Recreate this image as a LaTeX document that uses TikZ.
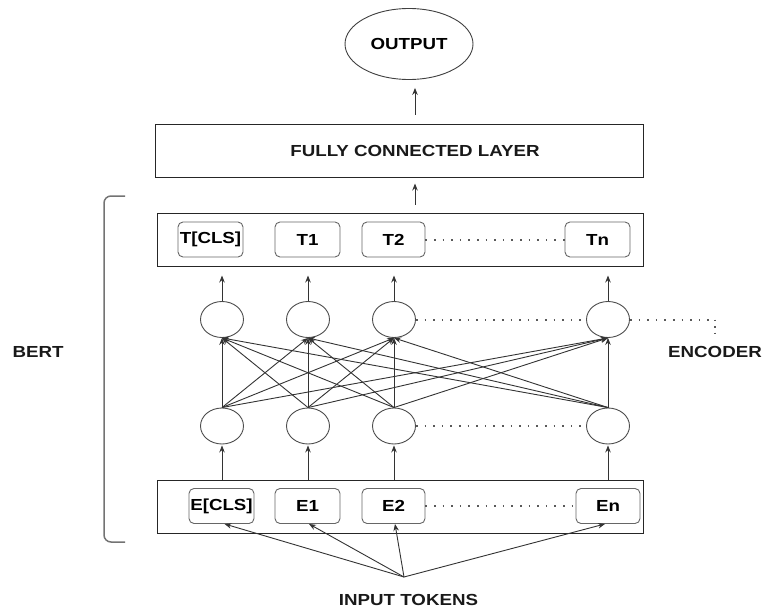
\documentclass[tikz,border=0pt]{standalone}
\usepackage{fontspec}
\setmainfont[FakeStretch=1.17]{Liberation Sans}
\usetikzlibrary{shapes.geometric,arrows.meta}
\begin{document}
\begin{tikzpicture}[x=1pt,y=-1pt,
  lbl/.style={font=\fontsize{16}{19}\selectfont\bfseries, text=black!90, inner sep=0pt},
  bigbox/.style={draw=black!85, line width=1pt, minimum width=486pt, minimum height=53pt, inner sep=0pt},
  tok/.style={draw=black!60, line width=0.9pt, rounded corners=5pt, minimum width=64pt, minimum height=35pt, inner sep=0pt, font=\fontsize{16}{19}\selectfont\bfseries},
  neuron/.style={ellipse, draw=black!70, line width=0.9pt, minimum width=43pt, minimum height=36pt, inner sep=0pt},
  arr/.style={draw=black!80, line width=0.9pt, -{Stealth[length=7pt,width=5.5pt]}},
  dots/.style={draw=black!65, line width=2pt, dash pattern=on 1.6pt off 7pt},
  brk/.style={draw=black!55, line width=1.5pt}]
\useasboundingbox (0,0) rectangle (766,610);

% output and fully connected layer
\node[ellipse, draw=black!75, line width=0.9pt, minimum width=128pt, minimum height=71pt, inner sep=0pt, font=\fontsize{16}{19}\selectfont\bfseries] (out) at (409,44) {OUTPUT};
\node[bigbox, minimum width=488pt] (fc) at (399,150.5) {};
\node[lbl] (fcl) at (415,150.5) {FULLY CONNECTED LAYER};

% T box
\node[bigbox] (tbox) at (400,239.5) {};
\node[tok, minimum width=65pt] (tcls) at (210.5,239.5) {T[CLS]};
\node[tok, minimum width=65pt] (t1) at (307.5,239.5) {T1};
\node[tok, minimum width=63pt] (t2) at (393.5,239.5) {T2};
\node[tok, minimum width=65pt] (tn) at (597.5,239.5) {Tn};
\draw[dots] (t2.east) -- (tn.west);

% E box
\node[bigbox] (ebox) at (400,506.5) {};
\node[tok, minimum width=65pt] (ecls) at (221.5,506) {E[CLS]};
\node[tok, minimum width=65pt] (e1) at (307.5,506) {E1};
\node[tok, minimum width=63pt] (e2) at (393.5,506) {E2};
\node[tok, minimum width=64pt] (en) at (608,506) {En};
\draw[dots] (e2.east) -- (en.west);

% neurons
\foreach \i/\x in {1/222,2/308,3/394,4/608}{
  \node[neuron] (u\i) at (\x,319.5) {};
  \node[neuron] (d\i) at (\x,426) {};
}
\draw[dots] (u3.east) -- (u4.west);
\draw[dots] (d3.east) -- (d4.west);
\coordinate (encc) at (715,319.5);
\coordinate (encd) at (715,339);
\draw[dots] (u4.east) -- (encc);
\draw[dots, dash pattern=on 1.6pt off 5pt] (encc) -- (encd);
\node[lbl] (enc) at (715,352) {ENCODER};

% fully connected encoder arrows
\foreach \a in {1,2,3,4}{
  \foreach \b in {1,2,3,4}{
    \draw[arr] (d\a.north) -- (u\b.south);
  }
}

% arrows up
\foreach \i in {1,2,3,4}{
  \draw[arr, shorten >=9pt] (u\i.north) -- (u\i.north |- tbox.south);
  \draw[arr, shorten >=1pt] (d\i.south |- ebox.north) -- (d\i.south);
}
\coordinate (ax) at (415,0);
\draw[arr, shorten <=8pt, shorten >=6pt] (tbox.north -| ax) -- (fc.south -| ax);
\draw[arr, shorten <=9pt, shorten >=8pt] (fc.north -| ax) -- (out.south -| ax);

% input tokens
\coordinate (inp) at (404,577);
\draw[arr] (inp) -- ([xshift=3pt]ecls.south);
\draw[arr] (inp) -- ([xshift=1.5pt]e1.south);
\draw[arr] (inp) -- ([xshift=1.5pt]e2.south);
\draw[arr] (inp) -- ([xshift=-3pt]en.south);
\node[lbl] (inl) at (408.5,600) {INPUT TOKENS};

% BERT bracket
\draw[brk] (125,196) -- (111,196) arc[start angle=90, end angle=180, radius=7pt] -- (104,535) arc[start angle=180, end angle=270, radius=7pt] -- (125,542);
\node[lbl] (bert) at (38,352) {BERT};
\end{tikzpicture}
\end{document}
